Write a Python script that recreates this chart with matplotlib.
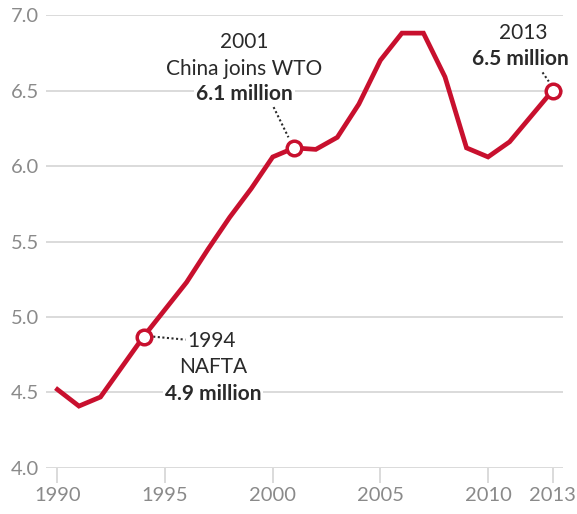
import matplotlib
matplotlib.use("Agg")
import matplotlib.pyplot as plt

# data (million)
years = list(range(1990, 2014))
values = [4.52, 4.41, 4.47, 4.67, 4.87, 5.05, 5.23, 5.45, 5.66, 5.85,
          6.06, 6.12, 6.11, 6.19, 6.41, 6.70, 6.88, 6.88, 6.59, 6.12,
          6.06, 6.16, 6.33, 6.50]

mark_years = [1994, 2001, 2013]
mark_vals = [4.87, 6.12, 6.50]

xticks = [1990, 1995, 2000, 2005, 2010, 2013]
yticks = [4.0, 4.5, 5.0, 5.5, 6.0, 6.5, 7.0]

red = "#c8102e"
grey = "#8a8a8a"
dark = "#2a2a2a"

plt.rcParams["font.family"] = ["Lato", "DejaVu Sans"]

fig = plt.figure(figsize=(5.77, 5.14), dpi=100)
ax = fig.add_axes([0.0797, 0.0895, 0.896, 0.8813])

ax.set_xlim(1989.47, 2013.48)
ax.set_ylim(4.0, 7.0)

for y in yticks:
    ax.axhline(y, color="#d4d4d4", lw=1.2, zorder=0)

ax.plot(years, values, color=red, lw=3.4, solid_joinstyle="miter", zorder=3)
ax.plot(mark_years, mark_vals, "o", ms=10.5, mfc="white", mec=red, mew=2.5, zorder=4)

for s in ax.spines.values():
    s.set_visible(False)

ax.set_xticks(xticks)
ax.set_yticks(yticks)
ax.set_yticklabels([f"{v:.1f}" for v in yticks])
ax.tick_params(axis="y", length=0, pad=5, labelsize=14.5, labelcolor=grey)
ax.tick_params(axis="x", length=11, width=1.2, color="#d4d4d4", pad=3,
               labelsize=14.5, labelcolor=grey)

box = dict(facecolor="white", edgecolor="none", pad=1.5)
dots = dict(ls=(0, (1, 1.2)), color=dark, lw=1.5, zorder=2)

# 2001 annotation
ax.text(1998.68, 6.82, "2001", ha="center", va="center", fontsize=15, color=dark)
ax.text(1998.68, 6.64, "China joins WTO", ha="center", va="center", fontsize=15,
        color=dark, bbox=box)
ax.text(1998.68, 6.48, "6.1 million", ha="center", va="center", fontsize=15,
        color=dark, fontweight="bold", bbox=box)
ax.plot([2000.04, 2000.73], [6.39, 6.19], **dots)

# 2013 annotation
ax.text(2011.65, 6.88, "2013", ha="center", va="center", fontsize=15, color=dark)
ax.text(2011.5, 6.71, "6.5 million", ha="center", va="center", fontsize=15,
        color=dark, fontweight="bold")
ax.plot([2012.53, 2012.82], [6.62, 6.56], **dots)

# 1994 annotation
ax.text(1996.05, 4.84, "1994", ha="left", va="center", fontsize=15, color=dark)
ax.text(1997.25, 4.67, "NAFTA", ha="center", va="center", fontsize=15, color=dark)
ax.text(1997.22, 4.49, "4.9 million", ha="center", va="center", fontsize=15,
        color=dark, fontweight="bold", bbox=box)
ax.plot([1994.45, 1995.95], [4.87, 4.85], **dots)

fig.savefig("out.png", dpi=100)
